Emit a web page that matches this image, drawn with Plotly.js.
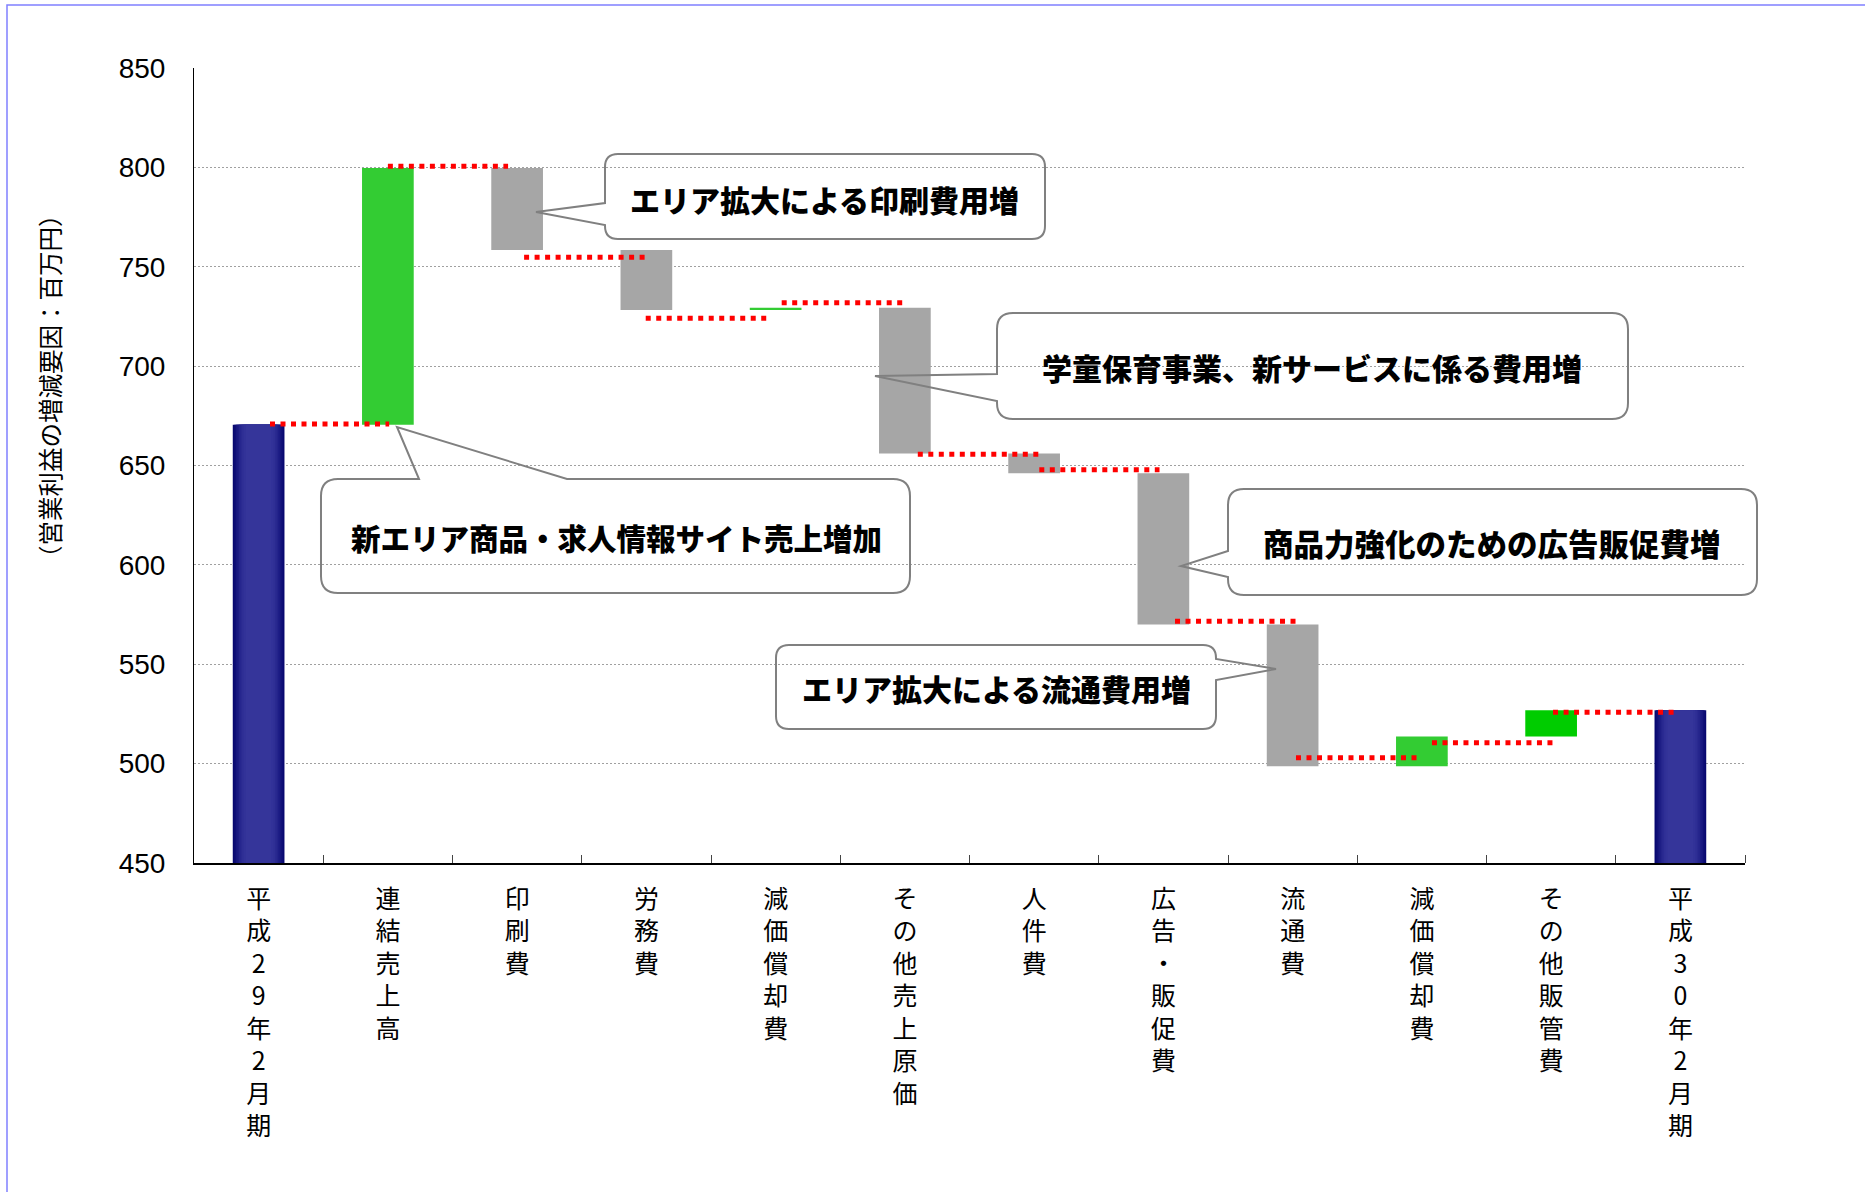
<!DOCTYPE html>
<html><head><meta charset="utf-8">
<script src="https://cdn.plot.ly/plotly-3.0.1.min.js"></script>
<style>html,body{margin:0;padding:0;background:#fff}#chart{width:1865px;height:1192px}</style>
</head><body><div id="chart"></div>
<script>
// ---------------- data ----------------
const categories = ['平成29年2月期','連結売上高','印刷費','労務費','減価償却費','その他売上原価','人件費','広告・販促費','流通費','減価償却費','その他販管費','平成30年2月期'];
const startTotal = 670.5;
const changes = [129.2, -41.3, -30.2, 1.2, -73.4, -9.9, -76.1, -71.3, 15.0, 13.1];
const endTotal = 526.8;
const connectorLevels = [670.9, 800.6, 754.8, 724.1, 731.9, 655.6, 647.9, 571.6, 503.0, 510.5, 525.8];
const yTickValues = [450, 500, 550, 600, 650, 700, 750, 800, 850];
const yAxisTitle = '（営業利益の増減要因：百万円）';
const calloutTexts = ['エリア拡大による印刷費用増','学童保育事業、新サービスに係る費用増','新エリア商品・求人情報サイト売上増加','商品力強化のための広告販促費増','エリア拡大による流通費用増'];

// ---------------- styles ----------------
const changeColors = ['#33CC33','#A6A6A6','#A6A6A6','#33CC33','#A6A6A6','#A6A6A6','#A6A6A6','#A6A6A6','#33CC33','#00CC00'];
const connStartOff = [0.088, 0.0, 0.054, -0.005, 0.047, 0.1, 0.04, 0.09, 0.026, 0.078, 0.015];
const connEndOff   = [0.01, -0.07, -0.01, -0.069, -0.015, 0.04, -0.03, 0.026, -0.038, 0.015, -0.046];
const navyLayers = [
  [0.400,'#080870'],[0.376,'#0F0F77'],[0.352,'#16167E'],[0.328,'#1D1D85'],
  [0.304,'#24248B'],[0.280,'#2A2A91'],[0.256,'#2F2F95'],[0.232,'#323298'],[0.200,'#35359A']
];

const PL=194, PT=68, PW=1551, PH=795;
const px2x = p => (p-PL)/PW;
const py2y = p => (PT+PH-p)/PH;

// ---------------- traces ----------------
const traces = [];
const totalsX = [0, categories.length-1];
const totalsY = [startTotal, endTotal];
navyLayers.forEach(([w,c]) => {
  traces.push({type:'bar', x: totalsX, y: totalsY, width: w, marker:{color:c, line:{width:0}}, hoverinfo:'skip'});
});

const bases = [], heights = [], xs = [], cols = [];
let run = startTotal;
changes.forEach((v,i) => {
  xs.push(i+1); bases.push(run); heights.push(v); cols.push(changeColors[i]);
  run += v;
});
traces.push({type:'bar', x: xs, y: heights, base: bases, width: 0.4, marker:{color: cols, line:{width:0}}, hoverinfo:'skip'});

const cx = [], cy = [];
connectorLevels.forEach((lv,i) => {
  cx.push(i + connStartOff[i], i + 1 + connEndOff[i], null);
  cy.push(lv, lv, null);
});
traces.push({type:'scatter', mode:'lines', x: cx, y: cy, connectgaps:false,
  line:{color:'#FF0000', width:5, dash:'5px,5.5px'}, hoverinfo:'skip'});

// ---------------- callouts ----------------
function calloutPath(L,T,R,B,r,ptr){
  const P = (x,y)=> px2x(x).toFixed(5)+','+py2y(y).toFixed(5);
  let d = 'M'+P(L+r,T);
  if (ptr.side==='top') d += ' L'+P(ptr.a,T)+' L'+P(ptr.tx,ptr.ty)+' L'+P(ptr.b,T);
  d += ' L'+P(R-r,T)+' Q'+P(R,T)+' '+P(R,T+r);
  if (ptr.side==='right') d += ' L'+P(R,ptr.a)+' L'+P(ptr.tx,ptr.ty)+' L'+P(R,ptr.b);
  d += ' L'+P(R,B-r)+' Q'+P(R,B)+' '+P(R-r,B);
  d += ' L'+P(L+r,B)+' Q'+P(L,B)+' '+P(L,B-r);
  if (ptr.side==='left') d += ' L'+P(L,ptr.b)+' L'+P(ptr.tx,ptr.ty)+' L'+P(L,ptr.a);
  d += ' L'+P(L,T+r)+' Q'+P(L,T)+' '+P(L+r,T)+' Z';
  return d;
}
const callouts = [
  {L:605, T:154, R:1045, B:239, r:13, ptr:{side:'left', a:203, b:225, tx:536, ty:212}, cx:824, cy:199, fs:30},
  {L:997, T:313, R:1628, B:419, r:16, ptr:{side:'left', a:374, b:401, tx:875, ty:376}, cx:1312, cy:367, fs:30},
  {L:321, T:479, R:910,  B:593, r:17, ptr:{side:'top', a:419, b:567, tx:397, ty:427}, cx:616, cy:537, fs:29.5},
  {L:1228,T:489, R:1757, B:595, r:16, ptr:{side:'left', a:551, b:577, tx:1181, ty:566}, cx:1492, cy:543, fs:30.5},
  {L:776, T:645, R:1216, B:729, r:13, ptr:{side:'right', a:659, b:680, tx:1276, ty:669}, cx:996, cy:688, fs:30}
];
const shapes = [];
const annotations = [];
callouts.forEach((c,i) => {
  const d = calloutPath(c.L,c.T,c.R,c.B,c.r,c.ptr);
  shapes.push({type:'path', xref:'paper', yref:'paper', path:d, fillcolor:'#FFFFFF', line:{width:0}, layer:'between'});
  shapes.push({type:'path', xref:'paper', yref:'paper', path:d, fillcolor:'rgba(0,0,0,0)', line:{color:'#808080', width:2}, layer:'above'});
  annotations.push({xref:'paper', yref:'paper', x:px2x(c.cx), y:py2y(c.cy), xanchor:'center', yanchor:'middle',
    text: calloutTexts[i], showarrow:false,
    font:{family:'Noto Sans CJK JP, Noto Sans', size:c.fs, color:'#000', weight:900}});
});
// outer frame
shapes.push({type:'path', xref:'paper', yref:'paper',
  path:'M'+px2x(7)+','+py2y(1300)+' L'+px2x(7)+','+py2y(5)+' L'+px2x(1900)+','+py2y(5),
  line:{color:'#8080FF', width:1.5}, layer:'above'});

annotations.push({xref:'paper', yref:'paper', x:px2x(49), y:py2y(386), xanchor:'center', yanchor:'middle',
  text:yAxisTitle, textangle:-90, showarrow:false,
  font:{family:'Noto Sans CJK JP', size:24.5, color:'#000'}});

const tickText = categories.map(s => Array.from(s).join('<br>'));
const boundaries = categories.map((_,i) => i + 0.5);

const layout = {
  width:1865, height:1192,
  margin:{l:PL, r:1865-PL-PW, t:PT, b:1192-PT-PH, pad:0},
  paper_bgcolor:'#FFFFFF', plot_bgcolor:'#FFFFFF',
  showlegend:false, hovermode:false, barmode:'overlay',
  xaxis:{type:'linear', range:[-0.5, categories.length-0.5], tickmode:'array',
    tickvals: categories.map((_,i)=>i), ticktext: tickText, ticks:'',
    showgrid:false, zeroline:false, showline:true, linecolor:'#000', linewidth:1.5,
    tickfont:{family:'Noto Sans CJK JP', size:25, color:'#000'}, ticklabelstandoff:13,
    minor:{tickmode:'array', tickvals: boundaries, ticks:'inside', ticklen:8, tickwidth:1, tickcolor:'#444', showgrid:false},
    fixedrange:true, automargin:false},
  yaxis:{range:[450,850], tickmode:'array', tickvals:yTickValues, ticks:'',
    showgrid:true, gridcolor:'#A0A0A0', gridwidth:1, griddash:'2px,2px',
    zeroline:false, showline:true, linecolor:'#000', linewidth:1,
    tickfont:{family:'Liberation Sans, Arial', size:28, color:'#000'}, ticklabelstandoff:22,
    fixedrange:true, automargin:false},
  shapes: shapes,
  annotations: annotations
};

Plotly.newPlot('chart', traces, layout, {displayModeBar:false, staticPlot:true});
</script>
</body></html>
